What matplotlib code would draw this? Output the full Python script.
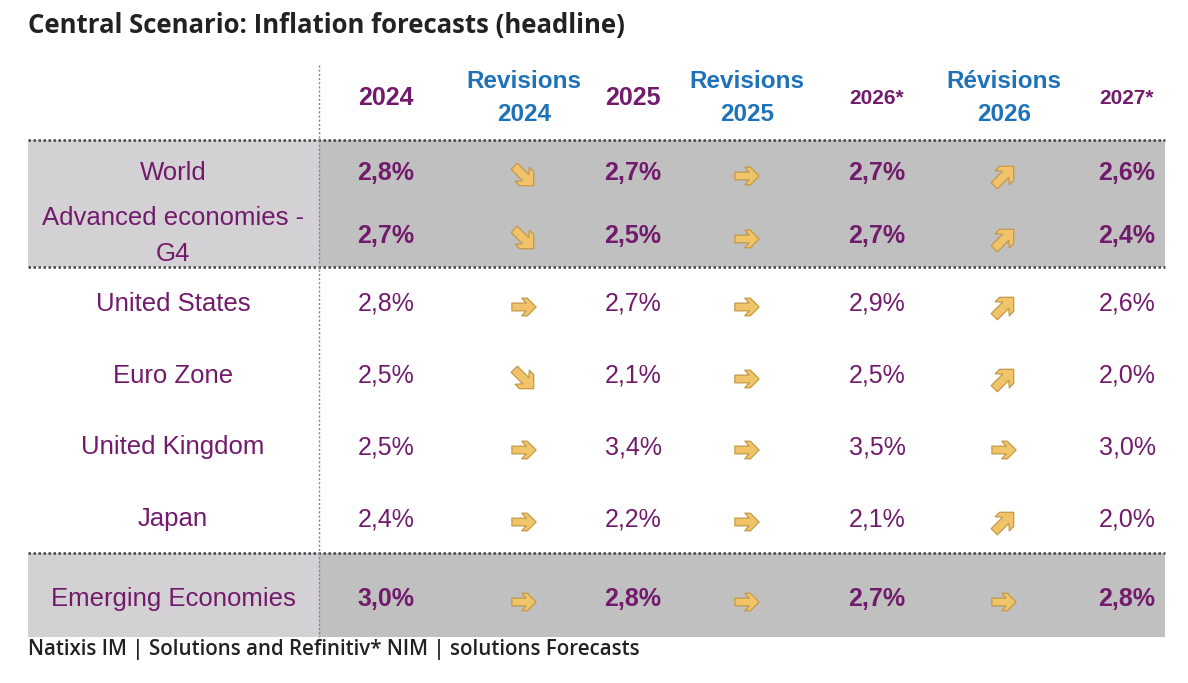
import matplotlib.pyplot as plt
from matplotlib.patches import Polygon
import numpy as np

# table content
regions = ["World", "Advanced economies -\nG4", "United States", "Euro Zone",
           "United Kingdom", "Japan", "Emerging Economies"]
bold_rows = [True, True, False, False, False, False, True]

infl_2024 = ["2,8%", "2,7%", "2,8%", "2,5%", "2,5%", "2,4%", "3,0%"]
infl_2025 = ["2,7%", "2,5%", "2,7%", "2,1%", "3,4%", "2,2%", "2,8%"]
infl_2026 = ["2,7%", "2,7%", "2,9%", "2,5%", "3,5%", "2,1%", "2,7%"]
infl_2027 = ["2,6%", "2,4%", "2,6%", "2,0%", "3,0%", "2,0%", "2,8%"]

# revision direction: -1 down, 0 unchanged, 1 up
rev_2024 = [-1, -1, 0, -1, 0, 0, 0]
rev_2025 = [0, 0, 0, 0, 0, 0, 0]
rev_2026 = [1, 1, 1, 1, 0, 1, 0]

headers = ["2024", "Revisions\n2024", "2025", "Revisions\n2025", "2026*", "Révisions\n2026", "2027*"]

PURPLE = "#721a6c"
BLUE = "#1f72b8"
ARROW = "#f2c46a"
ARROW_EDGE = "#c39a45"

W, H = 1188, 683
fig = plt.figure(figsize=(W / 100, H / 100), dpi=100)
ax = fig.add_axes([0, 0, 1, 1])
ax.set_xlim(0, W)
ax.set_ylim(H, 0)
ax.axis("off")

x_left, x_split, x_right = 28, 319, 1165
col_x = [386, 524, 633, 747, 877, 1004, 1127]
row_y = [173, 236, 304, 376, 447, 519, 599]

# shaded blocks
for y0, y1 in [(140, 267), (553, 637)]:
    ax.add_patch(plt.Rectangle((x_left, y0), x_split - x_left, y1 - y0, color="#d3d1d3", lw=0))
    ax.add_patch(plt.Rectangle((x_split, y0), x_right - x_split, y1 - y0, color="#c0c0c0", lw=0))

for y in [140, 267, 553]:
    ax.plot([x_left, x_right], [y, y], ls=(0, (1, 1)), color="#444444", lw=1.8)
ax.plot([x_split, x_split], [65, 637], ls=(0, (1.5, 1.5)), color="#6f86c6", lw=1)

ax.text(28, 26, "Central Scenario: Inflation forecasts (headline)", fontsize=18.5,
        fontfamily="Open Sans", fontweight="bold", color="#222222", va="center")
ax.text(28, 649, "Natixis IM | Solutions and Refinitiv* NIM | solutions Forecasts", fontsize=14.8,
        fontfamily="Open Sans", fontweight="semibold", color="#222222", va="center")

# header row
for i, h in enumerate(headers):
    if "\n" in h:
        ax.text(col_x[i], 98, h, fontsize=17.5, fontweight="bold", color=BLUE, ha="center",
                va="center", fontfamily="Liberation Sans", linespacing=1.55)
    else:
        fs = 15 if "*" in h else 18
        ax.text(col_x[i], 98, h, fontsize=fs, fontweight="bold", color=PURPLE, ha="center",
                va="center", fontfamily="Liberation Sans")

# chunky chevron arrow pointing right, in pixels
arrow_shape = np.array([(-11, -3.5), (2, -3.5), (-2, -8), (3, -8), (11, 0),
                        (3, 8), (-2, 8), (2, 3.5), (-11, 3.5)])


def draw_arrow(x, y, d):
    th = np.deg2rad(45 * d * -1)  # y axis points down
    rot = np.array([[np.cos(th), -np.sin(th)], [np.sin(th), np.cos(th)]])
    scale = 1.25 if d != 0 else 1.1
    pts = arrow_shape * scale @ rot.T + [x, y]
    ax.add_patch(Polygon(pts, closed=True, fc=ARROW, ec=ARROW_EDGE, lw=0.9, joinstyle="round"))


values = [infl_2024, infl_2025, infl_2026, infl_2027]
revs = [rev_2024, rev_2025, rev_2026]
for r, name in enumerate(regions):
    y = row_y[r]
    wt = "bold" if bold_rows[r] else "normal"
    ax.text(173, y, name, fontsize=18.5, color=PURPLE, ha="center", va="center",
            fontfamily="Liberation Sans", linespacing=1.6)
    for k, col in enumerate(values):
        ax.text(col_x[2 * k], y, col[r], fontsize=18, fontweight=wt, color=PURPLE,
                ha="center", va="center", fontfamily="Liberation Sans")
    for k, rv in enumerate(revs):
        draw_arrow(col_x[2 * k + 1], y + 3, rv[r])

fig.savefig("out.png", dpi=100)
